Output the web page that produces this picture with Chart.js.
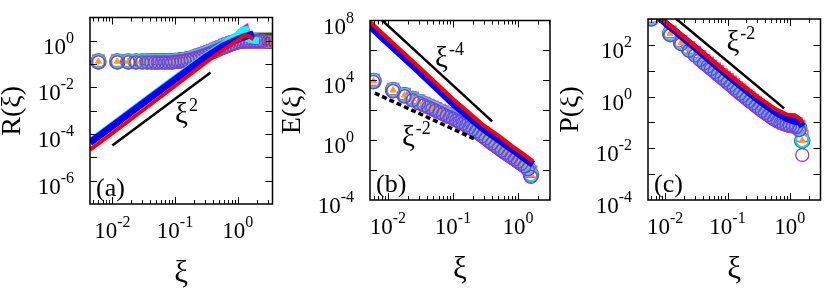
<!DOCTYPE html>
<html>
<head>
<meta charset="utf-8">
<script src="https://cdn.jsdelivr.net/npm/chart.js@4.4.1/dist/chart.umd.min.js"></script>
<style>
  body { margin: 0; background: #fff; }
  #wrap { position: relative; width: 830px; height: 289px; }
  canvas { position: absolute; top: 0; }
</style>
</head>
<body>
<div id="wrap">
  <canvas id="panelA" width="282" height="289" style="left:0"></canvas>
  <canvas id="panelB" width="278" height="289" style="left:282px"></canvas>
  <canvas id="panelC" width="270" height="289" style="left:560px"></canvas>
</div>
<script>
// ---- data ----
// xi of the marker series (shared by all panels, null = no point)
const xiPts = [0.006, 0.012, 0.018, 0.024, 0.030, 0.036, 0.042, 0.048, 0.054, 0.062,
  0.07, 0.08, 0.09, 0.1, 0.112, 0.126, 0.141, 0.158, 0.178, 0.2,
  0.224, 0.251, 0.282, 0.316, 0.355, 0.398, 0.447, 0.501, 0.562, 0.631,
  0.708, 0.794, 0.891, 1.0, 1.12, 1.26, 1.41, 1.58, 1.78, 2.0,
  2.24, 2.51, 2.82, 3.16, 3.55];

// (a) R(xi)
const xiLineA = [0.0044, 0.01, 0.03, 0.1, 0.3, 0.6, 1.0, 1.2, 1.35, 1.5, 1.8, 2.2];
const rBlue = [4.3e-5, 2.2e-4, 2.0e-3, 2.2e-2, 0.19, 0.62, 1.15, 1.4, 1.55, 1.7, 2.0, null];
const rRed = [2.1e-5, 1.1e-4, 1.0e-3, 1.15e-2, 0.11, 0.42, 1.05, 1.5, 1.75, 1.55, 1.2, null];
const rMagLine = [4.5e-5, 2.3e-4, 2.1e-3, 2.3e-2, 0.2, 0.7, 1.7, 2.8, 3.4, 1.3, 1.0, 1.0];
const rCyanLine = [4.6e-5, 2.4e-4, 2.2e-3, 2.4e-2, 0.21, 0.72, 1.8, 2.9, 3.0, 1.2, 1.05, 1.0];
const rCyan = [0.13, 0.13, 0.13, 0.13, 0.13, 0.13, 0.13, 0.13, 0.13, 0.13,
  0.13, 0.13, 0.13, 0.135, 0.14, 0.145, 0.15, 0.16, 0.17, 0.19,
  0.21, 0.23, 0.26, 0.29, 0.33, 0.37, 0.42, 0.48, 0.55, 0.62,
  0.7, 0.78, 0.87, 0.95, 1.0, 1.02, 1.02, 1.0, 1.0, 1.0,
  null, null, null, null, null];
const rPurple = [0.12, 0.12, 0.12, 0.12, 0.12, 0.12, 0.12, 0.12, 0.12, 0.12,
  0.12, 0.12, 0.12, 0.125, 0.13, 0.135, 0.14, 0.15, 0.16, 0.17,
  0.19, 0.21, 0.23, 0.26, 0.29, 0.33, 0.37, 0.42, 0.48, 0.55,
  0.62, 0.7, 0.78, 0.86, 0.92, 0.96, 0.98, 0.98, 0.98, 0.98,
  0.98, 0.98, null, null, null];
const rMagenta = [0.14, 0.14, 0.14, 0.14, 0.14, 0.14, 0.14, 0.14, 0.14, 0.14,
  0.14, 0.14, 0.14, 0.145, 0.15, 0.155, 0.16, 0.17, 0.18, 0.2,
  0.22, 0.25, 0.28, 0.31, 0.35, 0.4, 0.45, 0.51, 0.58, 0.66,
  0.75, 0.84, 0.93, 1.0, 1.0, 0.95, 0.92, 0.9, 0.9, 0.9,
  0.9, 0.9, 0.9, null, null];
const rGreen = [0.13, 0.13, 0.13, 0.13, 0.13, 0.13, 0.13, 0.13, 0.13, 0.13,
  0.13, 0.13, 0.13, 0.135, 0.14, 0.145, 0.15, 0.16, 0.17, 0.19,
  0.21, 0.23, 0.26, 0.29, 0.33, 0.37, 0.42, 0.48, 0.55, 0.62,
  0.7, 0.78, 0.87, 0.95, 1.0, 1.02, 1.02, 1.0, 1.0, 1.0,
  1.0, 1.0, 1.0, 1.0, 1.0];
const fitAx = [0.01, 0.37];
const fitAy = [3.2e-5, 0.044];

// (b) E(xi)
const xiLineB = [0.0045, 0.01, 0.03, 0.1, 0.2, 0.3, 0.5, 0.8, 1.2, 1.7];
const eBlue = [7.9e7, 3.2e6, 4.0e4, 2.8e2, 22, 5.2, 1.1, 0.25, 0.07, 0.024];
const eRed = [1.6e8, 6.3e6, 7.9e4, 5.6e2, 42, 9.3, 2.0, 0.42, 0.12, 0.038];
const eCyan = [8.9e3, 2.2e3, 1.0e3, 560, 360, 250, 186, 141, 112, 85,
  68, 51, 41, 33, 26, 20, 16, 12, 8.9, 6.6,
  4.8, 3.4, 2.3, 1.6, 1.07, 0.72, 0.5, 0.35, 0.24, 0.17,
  0.12, 0.085, 0.06, 0.043, 0.03, 0.021, 0.014, 0.005,
  null, null, null, null, null, null, null];
const ePurple = [7.5e3, 1.9e3, 850, 470, 300, 210, 155, 118, 94, 71,
  56, 42, 34, 27, 21, 16, 12.5, 9.5, 7.0, 5.2,
  3.8, 2.7, 1.85, 1.3, 0.88, 0.6, 0.42, 0.29, 0.2, 0.14,
  0.1, 0.072, 0.052, 0.037, 0.026, 0.018, 0.011, 0.0035,
  null, null, null, null, null, null, null];
const eMagenta = [1.07e4, 2.6e3, 1.2e3, 670, 430, 300, 223, 170, 134, 102,
  82, 61, 49, 40, 31, 24, 19, 14.4, 10.7, 7.9,
  5.8, 4.1, 2.8, 1.9, 1.3, 0.86, 0.6, 0.42, 0.29, 0.2,
  0.144, 0.1, 0.072, 0.052, 0.036, 0.025, 0.017, 0.008,
  null, null, null, null, null, null, null];
const fitB4x = [0.008, 0.4];
const fitB4y = [1.1e8, 18];
const fitB2x = [0.0063, 0.22];
const fitB2y = [1.4e3, 1.15];

// (c) P(xi)
const xiLineC = [0.0065, 0.01, 0.03, 0.1, 0.3, 0.6, 0.9, 1.2, 1.45, 1.6];
const pBlue = [1.8e3, 710, 79, 6.6, 0.79, 0.24, 0.14, 0.11, 0.1, 0.07];
const pRed = [2.0e3, 790, 91, 7.9, 1.0, 0.32, 0.2, 0.19, 0.14, 0.1];
const pCyan = [1.1e3, 275, 123, 69, 45, 31, 22, 17.4, 13.5, 10.5,
  8.1, 6.2, 4.9, 4.0, 3.2, 2.5, 1.95, 1.55, 1.23, 0.98,
  0.78, 0.63, 0.5, 0.41, 0.33, 0.27, 0.22, 0.18, 0.15, 0.13,
  0.112, 0.1, 0.091, 0.085, 0.081, 0.079, 0.06, 0.02,
  null, null, null, null, null, null, null];
const pPurple = [950, 235, 105, 59, 38, 26, 19, 14.8, 11.5, 8.9,
  6.9, 5.3, 4.2, 3.4, 2.7, 2.1, 1.65, 1.3, 1.05, 0.83,
  0.66, 0.54, 0.43, 0.35, 0.28, 0.23, 0.19, 0.155, 0.13, 0.11,
  0.095, 0.085, 0.078, 0.072, 0.069, 0.066, 0.05, 0.0055,
  null, null, null, null, null, null, null];
const pMagenta = [1.25e3, 315, 140, 79, 52, 36, 25, 20, 15.5, 12,
  9.3, 7.1, 5.6, 4.6, 3.7, 2.9, 2.2, 1.8, 1.4, 1.13,
  0.9, 0.72, 0.58, 0.47, 0.38, 0.31, 0.25, 0.21, 0.17, 0.15,
  0.13, 0.115, 0.105, 0.098, 0.093, 0.09, 0.07, 0.03,
  null, null, null, null, null, null, null];
const fitCx = [0.0146, 0.81];
const fitCy = [1.07e3, 0.35];

// axis ticks
const xTicks = [0.01, 0.1, 1];
const xTickExp = ['-2', '-1', '0'];
const yTicksA = [1, 1e-2, 1e-4, 1e-6];
const yTickExpA = ['0', '-2', '-4', '-6'];
const yTicksB = [1e8, 1e4, 1, 1e-4];
const yTickExpB = ['8', '4', '0', '-4'];
const yTicksC = [1e2, 1, 1e-2, 1e-4];
const yTickExpC = ['2', '0', '-2', '-4'];

// ---- drawing ----
const SERIF = '"Liberation Serif", "Times New Roman", serif';

function supText(ctx, x, y, base, exp, o) {
  ctx.font = o.bs + 'px ' + SERIF;
  const wb = ctx.measureText(base).width;
  ctx.font = o.es + 'px ' + SERIF;
  const we = ctx.measureText(exp).width;
  let x0 = x;
  if (o.align === 'center') x0 = x - (wb + we) / 2;
  if (o.align === 'right') x0 = x - (wb + we);
  ctx.textAlign = 'left';
  ctx.textBaseline = 'alphabetic';
  ctx.font = o.bs + 'px ' + SERIF;
  ctx.fillText(base, x0, y);
  ctx.font = o.es + 'px ' + SERIF;
  ctx.fillText(exp, x0 + wb + (o.gap || 0), y - o.rise);
}

const framePlugin = {
  id: 'gnuFrame',
  afterDatasetsDraw(chart, args, o) {
    const { ctx, chartArea: a } = chart;
    const xs = chart.scales.x, ys = chart.scales.y;
    ctx.save();
    ctx.fillStyle = '#000';
    ctx.strokeStyle = '#000';
    ctx.lineWidth = 1;
    const tick = (x1, y1, x2, y2) => { ctx.beginPath(); ctx.moveTo(x1, y1); ctx.lineTo(x2, y2); ctx.stroke(); };
    // x: major + minor ticks, inward, bottom and top
    for (let e = -3; e <= 1; e++) {
      for (let m = 1; m < 10; m++) {
        const v = m * Math.pow(10, e);
        if (v <= xs.min || v >= xs.max) continue;
        const px = Math.round(xs.getPixelForValue(v)) + 0.5;
        const len = m === 1 ? 7 : 4;
        tick(px, a.bottom, px, a.bottom - len);
        tick(px, a.top, px, a.top + len);
      }
    }
    // y: one tick every o.yStep decades
    for (let e = -10; e <= 10; e += o.yStep) {
      const v = Math.pow(10, e);
      if (v <= ys.min || v >= ys.max) continue;
      const py = Math.round(ys.getPixelForValue(v)) + 0.5;
      tick(a.left, py, a.left + 7, py);
      tick(a.right, py, a.right - 7, py);
    }
    ctx.lineWidth = 1.5;
    ctx.strokeRect(a.left, a.top, a.right - a.left, a.bottom - a.top);

    // tick labels
    const lab = { bs: 23, es: 16, rise: 11 };
    xTicks.forEach((v, i) => {
      supText(ctx, xs.getPixelForValue(v), a.bottom + 34, '10', xTickExp[i], { ...lab, align: 'center' });
    });
    o.yTicks.forEach((v, i) => {
      supText(ctx, a.left - 16, ys.getPixelForValue(v) + 13, '10', o.yExp[i], { ...lab, align: 'right' });
    });

    // axis titles
    ctx.textAlign = 'center';
    ctx.textBaseline = 'alphabetic';
    ctx.font = '31px ' + SERIF;
    ctx.fillText('ξ', (a.left + a.right) / 2, a.bottom + 78);
    ctx.font = '28px ' + SERIF;
    ctx.save();
    ctx.translate(a.left - 70, (a.top + a.bottom) / 2);
    ctx.rotate(-Math.PI / 2);
    ctx.fillText(o.yTitle, 0, 0);
    ctx.restore();

    // panel letter
    ctx.font = '26px ' + SERIF;
    ctx.textAlign = 'left';
    ctx.fillText(o.letter, a.left + 6, a.bottom - 8);

    // power-law annotations, anchored in data coordinates
    o.notes.forEach(n => {
      supText(ctx, xs.getPixelForValue(n.x), ys.getPixelForValue(n.y), 'ξ', n.exp,
        { bs: 29, es: 18, rise: 12, gap: 1, align: 'left' });
    });
    ctx.restore();
  }
};

function pts(xs, ys) {
  const out = [];
  xs.forEach((x, i) => { if (ys[i] != null) out.push({ x: x, y: ys[i] }); });
  return out;
}
function lineDs(xs, ys, color, w, dash) {
  return { data: pts(xs, ys), showLine: true, borderColor: color, borderWidth: w,
    borderDash: dash || [], pointRadius: 0, fill: false, tension: 0 };
}
function markDs(xs, ys, color, style, r, bw, fillColor) {
  return { data: pts(xs, ys), showLine: false, pointStyle: style, pointRadius: r,
    pointBorderWidth: bw, pointBorderColor: color,
    pointBackgroundColor: fillColor || 'rgba(0,0,0,0)' };
}

function makePanel(id, pad, xr, yr, datasets, deco) {
  return new Chart(document.getElementById(id), {
    type: 'scatter',
    data: { datasets: datasets },
    options: {
      responsive: false,
      animation: false,
      events: [],
      layout: { padding: pad },
      plugins: { legend: { display: false }, tooltip: { enabled: false }, gnuFrame: deco },
      scales: {
        x: { type: 'logarithmic', display: false, min: xr[0], max: xr[1] },
        y: { type: 'logarithmic', display: false, min: yr[0], max: yr[1] }
      }
    },
    plugins: [framePlugin]
  });
}

// first dataset is drawn on top
makePanel('panelA', { left: 90, right: 3, top: 17.5, bottom: 85 }, [0.0044, 3.6], [1e-7, 10], [
  lineDs(fitAx, fitAy, '#000', 2.5),
  lineDs(xiLineA, rRed, '#ff0000', 4),
  lineDs(xiLineA, rBlue, '#0000ff', 7),
  lineDs(xiLineA, rCyanLine, '#00ffff', 7),
  lineDs(xiLineA, rMagLine, '#ff00ff', 7),
  markDs(xiPts, rPurple, '#9a30d8', 'circle', 6.5, 1.3),
  markDs(xiPts, rCyan, '#00e5f5', 'circle', 6.5, 2),
  markDs(xiPts, rCyan, '#ff9a00', 'triangle', 3.5, 1, '#ff9a00'),
  markDs(xiPts, rMagenta, '#ff40c8', 'rect', 8, 1.5),
  markDs(xiPts, rGreen, '#0a6e0a', 'circle', 7, 2.5)
], { yStep: 1, yTicks: yTicksA, yExp: yTickExpA, yTitle: 'R(ξ)', letter: '(a)',
  notes: [{ x: 0.1, y: 3e-4, exp: '2' }] });

makePanel('panelB', { left: 88, right: 10, top: 20.5, bottom: 89 }, [0.0053, 3.1], [1e-4, 1e8], [
  lineDs(fitB4x, fitB4y, '#000', 2.5),
  lineDs(fitB2x, fitB2y, '#000', 3.5, [5, 3]),
  lineDs(xiLineB, eRed, '#ff0000', 4),
  lineDs(xiLineB, eBlue, '#0000ff', 7),
  markDs(xiPts, ePurple, '#9a30d8', 'circle', 6.5, 1.3),
  markDs(xiPts, eCyan, '#00e5f5', 'circle', 6.5, 2),
  markDs(xiPts, eCyan, '#ff9a00', 'triangle', 3.5, 1, '#ff9a00'),
  markDs(xiPts, eMagenta, '#ff40c8', 'rect', 8, 1.5),
  markDs(xiPts, eCyan, '#0a6e0a', 'circle', 7, 2.5)
], { yStep: 2, yTicks: yTicksB, yExp: yTickExpB, yTitle: 'E(ξ)', letter: '(b)',
  notes: [{ x: 0.053, y: 8e4, exp: '-4' }, { x: 0.0164, y: 0.43, exp: '-2' }] });

makePanel('panelC', { left: 88, right: 2, top: 19, bottom: 89 }, [0.0053, 3.1], [1e-4, 1e3], [
  lineDs(fitCx, fitCy, '#000', 2.5),
  lineDs(xiLineC, pRed, '#ff0000', 4),
  lineDs(xiLineC, pBlue, '#0000ff', 7),
  markDs(xiPts, pPurple, '#9a30d8', 'circle', 6.5, 1.3),
  markDs(xiPts, pCyan, '#00e5f5', 'circle', 6.5, 2),
  markDs(xiPts, pCyan, '#ff9a00', 'triangle', 3.5, 1, '#ff9a00'),
  markDs(xiPts, pMagenta, '#ff40c8', 'rect', 8, 1.5),
  markDs(xiPts, pCyan, '#0a6e0a', 'circle', 7, 2.5)
], { yStep: 1, yTicks: yTicksC, yExp: yTickExpC, yTitle: 'P(ξ)', letter: '(c)',
  notes: [{ x: 0.096, y: 58, exp: '-2' }] });
</script>
</body>
</html>
